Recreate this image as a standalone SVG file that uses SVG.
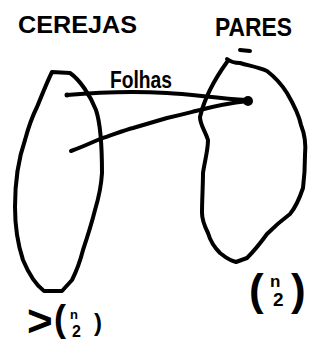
<svg xmlns="http://www.w3.org/2000/svg" width="325" height="345" viewBox="0 0 325 345">
<style>
.s{fill:none;stroke:#000;stroke-width:4;stroke-linecap:round;stroke-linejoin:round}
.t{font-family:"Liberation Sans",Arial,sans-serif;font-weight:bold;fill:#000}
</style>
<rect width="325" height="345" fill="#fff"/>
<g id="cerejas">
<path class="s" d="M52,72 L70,73 C80,80 90,95 96,110 C101,125 102,150 102,173 C101,190 98,200 95,210 C92,222 88,235 83,250 C80,262 76,272 72,280 L62,291 L44,291 C36,285 28,272 23,260 C18,245 15,225 15,207 C15,185 18,160 25,140 C29,125 33,115 37,107 C42,95 47,82 52,72 Z"/>
<text class="t" x="18" y="33" font-size="24" textLength="119" lengthAdjust="spacingAndGlyphs">CEREJAS</text>
</g>
<g id="pares">
<path class="s" d="M227,59 C232,63 236,63 240,63 C250,66 258,67 267,71 C276,78 282,85 287,93 C294,105 299,115 301,125 C305,135 306,145 305,155 C305,170 304,180 303,188 C299,200 295,208 290,214 C282,220 273,228 267,234 C259,245 253,252 247,258 L236,262 C228,260 224,256 220,253 C214,247 210,240 208,233 C204,225 202,218 202,213 C202,200 203,185 203,173 C205,160 208,150 208,140 C205,130 200,125 200,117 C204,100 214,80 227,62"/>
<text class="t" x="215" y="36" font-size="26" textLength="77" lengthAdjust="spacingAndGlyphs">PARES</text>
<path class="s" d="M240,50 L250,51"/>
</g>
<g id="connectors">
<path class="s" d="M67,95 C90,93 130,91 167,93 C190,94 215,98 247,100"/>
<path class="s" d="M71,151 C85,146 95,141 100,139 C115,134 125,130 133,128 C150,123 160,120 167,118 C185,114 195,111 200,110 C215,106 230,103 248,101"/>
<circle cx="248" cy="101" r="5" fill="#000"/>
<circle cx="67" cy="95" r="2.5" fill="#000"/>
<text class="t" x="110" y="88" font-size="24" textLength="62" lengthAdjust="spacingAndGlyphs">Folhas</text>
</g>
<g id="binom-pares">
<text class="t" x="249" y="305" font-size="44">(</text>
<text class="t" x="270" y="287" font-size="17">n</text>
<text class="t" x="273" y="306" font-size="19">2</text>
<text class="t" x="291" y="305" font-size="44">)</text>
</g>
<g id="binom-cerejas">
<text class="t" x="27" y="336" font-size="44" font-weight="normal">&gt;</text>
<text class="t" x="54" y="331" font-size="36">(</text>
<text class="t" x="70" y="319" font-size="13">n</text>
<text class="t" x="72" y="337" font-size="16">2</text>
<text class="t" x="94" y="331" font-size="24">)</text>
</g>
</svg>
